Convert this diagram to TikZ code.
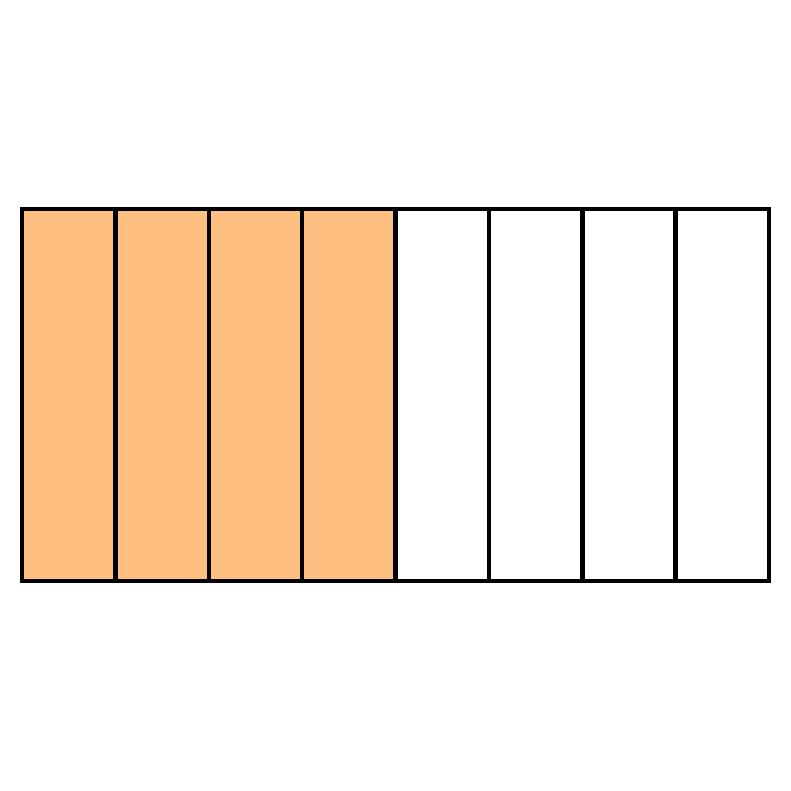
\documentclass[tikz,border=0pt]{standalone}
\usepackage{xcolor}
\usepackage{tikz}
\definecolor{shade}{HTML}{FFBF80}
\tikzset{
  cell/.style={draw=black, line width=0.45mm},
  filledcell/.style={cell, fill=shade}
}

\begin{document}
\begin{tikzpicture}[x=1cm,y=1cm]
  \useasboundingbox (0,0) rectangle (7.91,7.91);

  % eight vertical strips, first four shaded
  \foreach \i in {0,...,7} {
    \pgfmathsetmacro{\xa}{0.22+0.93375*\i}
    \pgfmathsetmacro{\xb}{0.22+0.93375*(\i+1)}
    \ifnum\i<4
      \draw[filledcell] (\xa,2.10) rectangle (\xb,5.82);
    \else
      \draw[cell] (\xa,2.10) rectangle (\xb,5.82);
    \fi
  }
  % outer frame
  \draw[cell] (0.22,2.10) rectangle (7.69,5.82);
\end{tikzpicture}
\end{document}
